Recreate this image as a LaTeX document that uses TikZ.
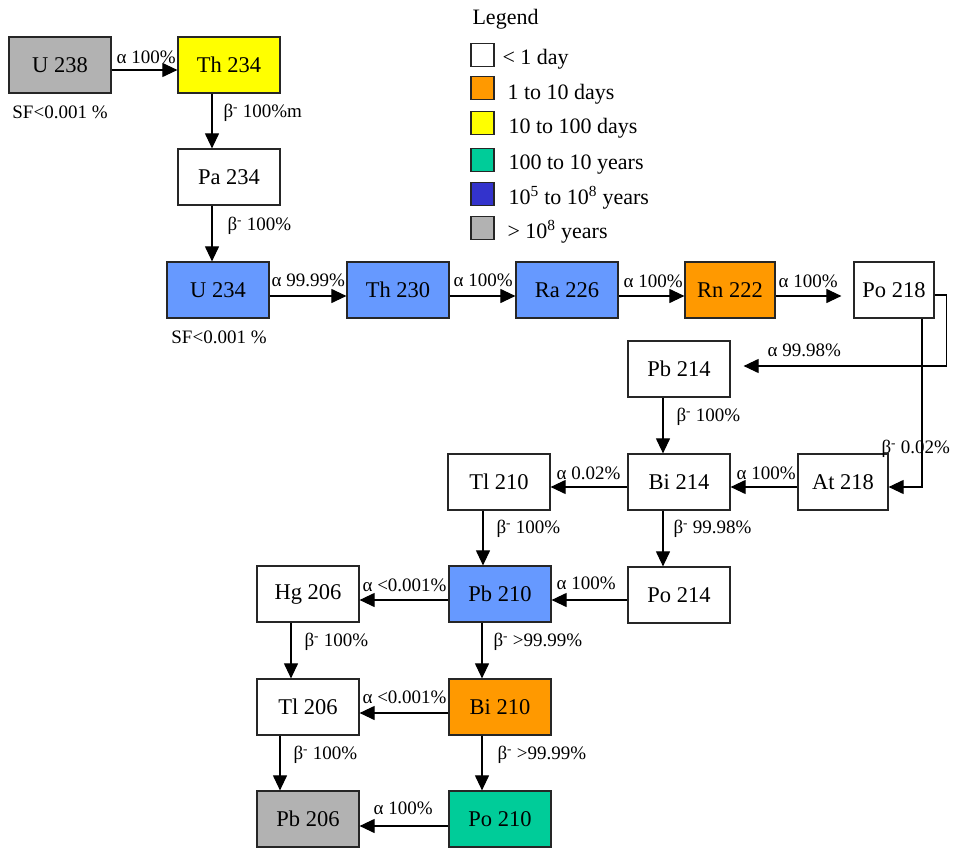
\documentclass[tikz,border=0pt]{standalone}
\usepackage{fontspec}
\setmainfont{Liberation Serif}
\usetikzlibrary{arrows.meta}
\definecolor{longgray}{HTML}{B2B2B2}
\definecolor{dayyellow}{HTML}{FFFF00}
\definecolor{midblue}{HTML}{6699FF}
\definecolor{deepblue}{HTML}{3333CC}
\definecolor{dayorange}{HTML}{FF9900}
\definecolor{yeargreen}{HTML}{00CC99}
\newcommand{\betam}{β\textsuperscript{-}}

\begin{document}
\begin{tikzpicture}[x=1pt,y=-1pt,
  nuc/.style={draw=black!85,line width=1.2pt,minimum width=102pt,minimum height=56pt,inner sep=0pt,fill=white,font=\fontsize{22.5}{26}\selectfont},
  lab/.style={anchor=west,inner sep=0pt,font=\fontsize{19}{23}\selectfont},
  key/.style={draw=black!85,line width=1.2pt,minimum size=23pt,inner sep=0pt},
  keytext/.style={anchor=west,inner sep=0pt,font=\fontsize{22}{26}\selectfont},
  >={Triangle[length=15pt,width=14pt]},line width=1.1pt]
\useasboundingbox (0,0) rectangle (954,848);
% legend
\node[keytext] (legtitle) at (472,19) {Legend};
\node[key,fill=white] (k1) at (482.5,55) {}; \node[keytext] (t1) at (502,59) {< 1 day};
\node[key,fill=dayorange] (k2) at (482.5,88) {}; \node[keytext] (t2) at (507,94) {1 to 10 days};
\node[key,fill=dayyellow] (k3) at (482.5,123) {}; \node[keytext] (t3) at (508,128) {10 to 100 days};
\node[key,fill=yeargreen] (k4) at (482.5,160) {}; \node[keytext] (t4) at (508,165) {100 to 10 years};
\node[key,fill=deepblue] (k5) at (482.5,194) {}; \node[keytext] (t5) at (508,198) {10\textsuperscript{5} to 10\textsuperscript{8} years};
\node[key,fill=longgray] (k6) at (482.5,228) {}; \node[keytext] (t6) at (507,232) {> 10\textsuperscript{8} years};
% nuclides
\node[nuc,fill=longgray] (u238) at (60,65) {U 238};
\node[nuc,fill=dayyellow] (th234) at (229,65) {Th 234};
\node[nuc] (pa234) at (229,177) {Pa 234};
\node[nuc,fill=midblue] (u234) at (218,290) {U 234};
\node[nuc,fill=midblue] (th230) at (398,290) {Th 230};
\node[nuc,fill=midblue] (ra226) at (567,290) {Ra 226};
\node[nuc,fill=dayorange,minimum width=90pt] (rn222) at (730,290) {Rn 222};
\node[nuc,minimum width=80pt] (po218) at (894,290) {Po 218};
\node[nuc] (pb214) at (679,369) {Pb 214};
\node[nuc] (bi214) at (679,482) {Bi 214};
\node[nuc,minimum width=90pt] (at218) at (843,482) {At 218};
\node[nuc] (tl210) at (499,482) {Tl 210};
\node[nuc] (po214) at (679,595) {Po 214};
\node[nuc,fill=midblue] (pb210) at (500,594) {Pb 210};
\node[nuc] (hg206) at (308,594) {Hg 206};
\node[nuc,fill=dayorange] (bi210) at (500,707) {Bi 210};
\node[nuc] (tl206) at (308,707) {Tl 206};
\node[nuc,fill=yeargreen] (po210) at (500,819) {Po 210};
\node[nuc,fill=longgray] (pb206) at (308,819) {Pb 206};
\node[lab,anchor=center] (sf1) at (60,112) {SF<0.001 \%};
\node[lab,anchor=center] (sf2) at (219,337) {SF<0.001 \%};
% decays
\draw[->] ([yshift=-5pt]u238.east) -- ([yshift=-5pt]th234.west);
\draw[->] ([xshift=-17pt]th234.south) -- ([xshift=-17pt]pa234.north);
\draw[->] ([xshift=-17pt]pa234.south) -- ([xshift=-17pt]pa234.south |- u234.north);
\draw[->] ([yshift=-6pt]u234.east) -- ([yshift=-6pt]th230.west);
\draw[->] ([yshift=-6pt]th230.east) -- ([yshift=-6pt]ra226.west);
\draw[->] ([yshift=-6pt]ra226.east) -- ([yshift=-6pt]rn222.west);
\draw[->,shorten >=12pt] ([yshift=-6pt]rn222.east) -- ([yshift=-6pt]po218.west);
\draw[->] ([yshift=-5pt]po218.east) -- ++(12,0) |- ([xshift=13pt,yshift=3pt]pb214.east);
\draw[->] ([xshift=28pt]po218.south) |- ([yshift=-5pt]at218.east);
\draw[->] ([xshift=-16pt]pb214.south) -- ([xshift=-16pt]bi214.north);
\draw[->] ([yshift=-5pt]at218.west) -- ([yshift=-5pt]bi214.east);
\draw[->] ([yshift=-5pt]bi214.west) -- ([yshift=-5pt]tl210.east);
\draw[->] ([xshift=-16pt]bi214.south) -- ([xshift=-16pt]po214.north);
\draw[->] ([xshift=-16pt]tl210.south) -- ([xshift=-16pt]tl210.south |- pb210.north);
\draw[->] ([yshift=-5pt]po214.west) -- ([yshift=-5pt]po214.west -| pb210.east);
\draw[->] ([yshift=-6pt]pb210.west) -- ([yshift=-6pt]hg206.east);
\draw[->] ([xshift=-18pt]pb210.south) -- ([xshift=-18pt]bi210.north);
\draw[->] ([xshift=-17pt]hg206.south) -- ([xshift=-17pt]tl206.north);
\draw[->] ([yshift=-6pt]bi210.west) -- ([yshift=-6pt]tl206.east);
\draw[->] ([xshift=-28pt]tl206.south) -- ([xshift=-28pt]pb206.north);
\draw[->] ([xshift=-18pt]bi210.south) -- ([xshift=-18pt]po210.north);
\draw[->] ([yshift=-7pt]po210.west) -- ([yshift=-7pt]pb206.east);
% branch labels
\node[lab] (d1) at (116,57) {α 100\%};
\node[lab] (d2) at (223,113) {\betam\ 100\%m};
\node[lab] (d3) at (227,226) {\betam\ 100\%};
\node[lab] (d4) at (271,280) {α 99.99\%};
\node[lab] (d5) at (453,280) {α 100\%};
\node[lab] (d6) at (623,281) {α 100\%};
\node[lab] (d7) at (778,281) {α 100\%};
\node[lab] (d8) at (767,350) {α 99.98\%};
\node[lab] (d9) at (881,449) {\betam\ 0.02\%};
\node[lab] (d10) at (676,417) {\betam\ 100\%};
\node[lab] (d11) at (736,473) {α 100\%};
\node[lab] (d12) at (556,473) {α 0.02\%};
\node[lab] (d13) at (496,529) {\betam\ 100\%};
\node[lab] (d14) at (673,529) {\betam\ 99.98\%};
\node[lab] (d15) at (556,583) {α 100\%};
\node[lab] (d16) at (362,585) {α <0.001\%};
\node[lab] (d17) at (493,642) {\betam\ >99.99\%};
\node[lab] (d18) at (304,642) {\betam\ 100\%};
\node[lab] (d19) at (362,697) {α <0.001\%};
\node[lab] (d20) at (293,755) {\betam\ 100\%};
\node[lab] (d21) at (497,755) {\betam\ >99.99\%};
\node[lab] (d22) at (373,808) {α 100\%};
\end{tikzpicture}
\end{document}
